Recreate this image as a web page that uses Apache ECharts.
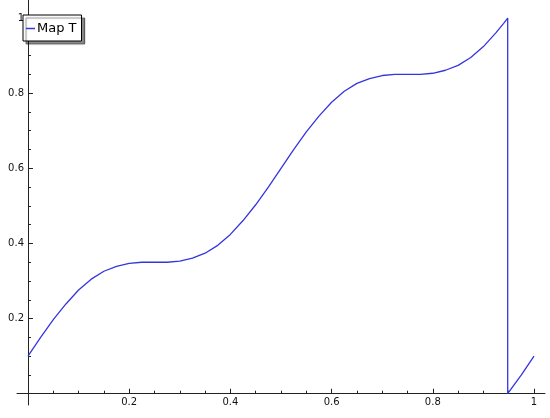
<!DOCTYPE html>
<html lang="en">

<head>
    <meta charset="UTF-8">
    <title>Map T</title>
    <style>
        * {
            margin: 0;
            padding: 0;
        }

        #main {
            width: 550px;
            height: 418px;
            background-color: #fff;
        }
    </style>
</head>
<script src="https://cdn.jsdelivr.net/npm/echarts@6/dist/echarts.min.js"></script>

<body>
    <div id="main"></div>
    <script>
        // values
        const xValues = [0, 0.025, 0.05, 0.075, 0.1, 0.125, 0.15, 0.175, 0.2, 0.225,
            0.25, 0.275, 0.3, 0.325, 0.35, 0.375, 0.4, 0.425, 0.45, 0.475,
            0.5, 0.525, 0.55, 0.575, 0.6, 0.625, 0.65, 0.675, 0.7, 0.725,
            0.75, 0.775, 0.8, 0.825, 0.85, 0.875, 0.9, 0.925, 0.94, 0.948,
            0.948, 0.975, 1];
        const yValues = [0.1, 0.15, 0.197, 0.239, 0.276, 0.305, 0.326, 0.339, 0.347, 0.35,
            0.35, 0.35, 0.353, 0.361, 0.374, 0.395, 0.424, 0.461, 0.503, 0.55,
            0.6, 0.65, 0.697, 0.739, 0.776, 0.805, 0.826, 0.839, 0.847, 0.85,
            0.85, 0.85, 0.853, 0.861, 0.874, 0.895, 0.924, 0.961, 0.986, 1.0,
            0, 0.05, 0.1];
        const majorTicks = [0.2, 0.4, 0.6, 0.8, 1];
        const minorTicks = [0.05, 0.1, 0.15, 0.25, 0.3, 0.35, 0.45, 0.5, 0.55, 0.65, 0.7, 0.75, 0.85, 0.9, 0.95];
        const seriesName = 'Map T';

        const points = xValues.map((x, i) => [x, yValues[i]]);

        var myChart = echarts.init(document.getElementById('main'));
        var axisColor = '#222';
        var labelStyle = {
            color: '#111',
            fontSize: 10,
            fontFamily: 'DejaVu Sans'
        };

        function makeAxis(isMinor, labelMargin, extra) {
            return Object.assign({
                type: 'value',
                splitLine: { show: false },
                axisLine: {
                    show: !isMinor,
                    onZero: true,
                    lineStyle: { color: axisColor, width: 1 }
                },
                axisTick: {
                    show: true,
                    inside: true,
                    length: isMinor ? 3 : 5,
                    customValues: isMinor ? minorTicks : majorTicks,
                    lineStyle: { color: axisColor, width: 1 }
                },
                axisLabel: isMinor ? { show: false } : Object.assign({
                    show: true,
                    margin: labelMargin,
                    customValues: majorTicks
                }, labelStyle)
            }, extra);
        }

        var option = {
            animation: false,
            grid: {
                left: 17,
                right: 5,
                top: 0,
                bottom: 13,
                outerBoundsMode: 'none'
            },
            legend: {
                left: 23,
                top: 15,
                data: [seriesName],
                backgroundColor: '#fff',
                borderColor: '#000',
                borderWidth: 1,
                borderRadius: 0,
                padding: [7, 5, 6, 3],
                shadowColor: 'rgba(0,0,0,0.45)',
                shadowBlur: 1,
                shadowOffsetX: 3,
                shadowOffsetY: 3,
                icon: 'rect',
                itemWidth: 9,
                itemHeight: 1.5,
                textStyle: {
                    color: '#000',
                    fontSize: 13,
                    fontFamily: 'DejaVu Sans',
                    padding: [0, 0, 0, -3]
                }
            },
            xAxis: [
                makeAxis(false, -8, { min: -0.0217, max: 1.0217, position: 'bottom' }),
                makeAxis(true, 0, { min: -0.0217, max: 1.0217, position: 'bottom' })
            ],
            yAxis: [
                makeAxis(false, -7, { min: -0.03, max: 1.048, position: 'left' }),
                makeAxis(true, 0, { min: -0.03, max: 1.048, position: 'left' })
            ],
            series: [
                {
                    name: seriesName,
                    type: 'line',
                    data: points,
                    showSymbol: false,
                    smooth: false,
                    color: '#3535e0',
                    lineStyle: { width: 1.3, color: '#3535e0' }
                }
            ]
        };
        option && myChart.setOption(option);
    </script>
</body>

</html>
